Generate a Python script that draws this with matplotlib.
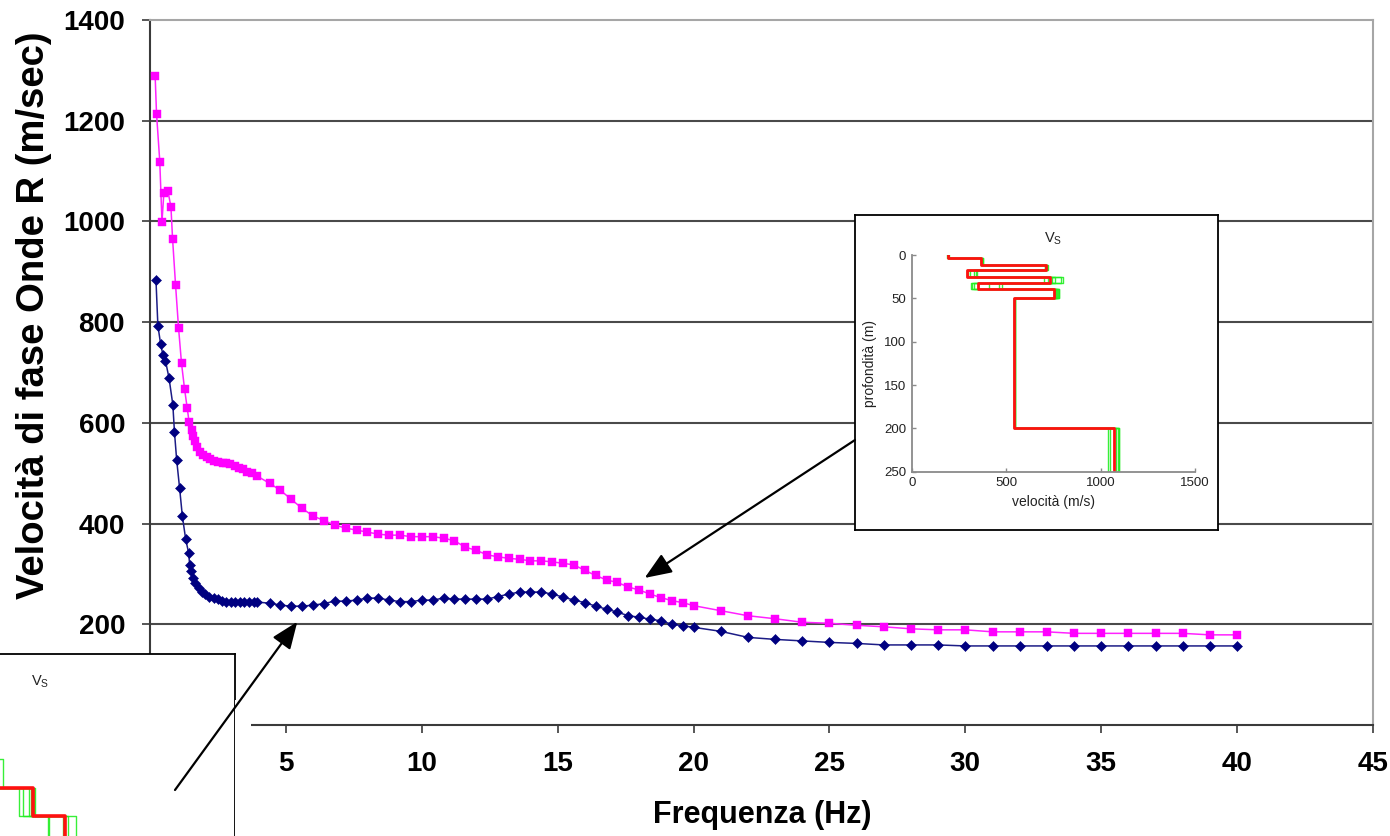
import matplotlib
matplotlib.use("Agg")
import matplotlib.pyplot as plt
from matplotlib.patches import ConnectionPatch, Rectangle

plt.rcParams["font.family"] = ["Liberation Sans", "DejaVu Sans"]

# ---------------- dispersion curves (frequency in Hz, phase velocity in m/s) ----------------
freq_blue_low = [0.22, 0.29, 0.39, 0.48, 0.57, 0.70, 0.84, 0.90, 0.98, 1.09, 1.19, 1.31,
                 1.42, 1.46, 1.52, 1.58, 1.67, 1.79, 1.91, 2.04, 2.18, 2.34, 2.49, 2.65,
                 2.81, 2.98, 3.14, 3.30, 3.47, 3.63, 3.81, 3.94]
freq_pink_low = [0.19, 0.24, 0.36, 0.44, 0.51, 0.66, 0.77, 0.83, 0.94, 1.05, 1.16, 1.27,
                 1.37, 1.44, 1.53, 1.59, 1.65, 1.74, 1.84, 1.96, 2.08, 2.20, 2.35, 2.50,
                 2.67, 2.81, 2.96, 3.12, 3.28, 3.43, 3.58, 3.74, 3.92]
freq_mid = [4.4, 4.8, 5.2, 5.6, 6.0, 6.4, 6.8, 7.2, 7.6, 8.0, 8.4, 8.8, 9.2, 9.6, 10.0,
            10.4, 10.8, 11.2, 11.6, 12.0, 12.4, 12.8, 13.2, 13.6, 14.0, 14.4, 14.8, 15.2,
            15.6, 16.0, 16.4, 16.8, 17.2, 17.6, 18.0, 18.4, 18.8, 19.2, 19.6, 20.0]
freq_high = [21, 22, 23, 24, 25, 26, 27, 28, 29, 30, 31, 32, 33, 34, 35, 36, 37, 38, 39, 40]

vel_blue = [883, 793, 757, 734, 723, 689, 636, 582, 527, 470, 415, 370,
            342, 318, 305, 291, 281, 272, 265, 260, 255, 252, 250, 247,
            245, 245, 244, 244, 244, 244, 244, 244,
            242, 238, 236, 236, 238, 241, 246, 246, 248, 252, 252, 248, 245, 245, 248,
            248, 252, 250, 250, 250, 250, 255, 260, 264, 264, 264, 260, 254,
            248, 243, 236, 230, 224, 217, 214, 210, 207, 200, 197, 194,
            186, 174, 170, 167, 164, 162, 159, 159, 159, 157, 157, 157, 157, 157, 157,
            157, 157, 157, 157, 157]
vel_pink = [1288, 1214, 1119, 999, 1056, 1060, 1029, 966, 874, 789, 718, 668,
            629, 601, 586, 573, 563, 553, 543, 536, 532, 528, 525, 523,
            521, 520, 518, 515, 511, 508, 503, 500, 495,
            480, 466, 448, 430, 415, 406, 397, 391, 387, 383, 379, 377, 377, 374, 374,
            374, 371, 366, 353, 347, 338, 334, 331, 329, 326, 326, 324, 321,
            318, 307, 297, 288, 283, 274, 268, 260, 253, 247, 243, 237,
            227, 217, 211, 204, 202, 198, 195, 191, 189, 189, 185, 185, 185, 182, 182,
            182, 182, 182, 179, 179]

freq_blue = freq_blue_low + freq_mid + freq_high
freq_pink = freq_pink_low + freq_mid + freq_high

x_ticks = [5, 10, 15, 20, 25, 30, 35, 40, 45]
y_ticks = [200, 400, 600, 800, 1000, 1200, 1400]
grid_levels = [200, 400, 600, 800, 1000, 1200]

# ---------------- Vs profiles (layer boundaries in m, velocity per layer in m/s) ----------------
prof_depth = [0, 3, 11.5, 17.3, 25, 32, 39, 50, 200, 250]
prof_red = [191, 367, 710, 292, 733, 350, 755, 542, 1069]
prof_green = [
    [195, 370, 715, 300, 790, 320, 770, 545, 1090],
    [190, 375, 705, 330, 760, 330, 780, 540, 1095],
    [192, 365, 720, 340, 700, 410, 765, 548, 1040],
    [188, 372, 712, 310, 800, 460, 775, 544, 1080],
    [191, 368, 708, 295, 720, 478, 760, 541, 1050],
    [193, 378, 716, 345, 745, 315, 778, 546, 1100],
]

prof2_depth = [0, 40, 70, 104, 136, 250]
prof2_red = [300, 420, 500, 713, 883]
prof2_green = [
    [310, 430, 554, 640, 800],
    [290, 410, 520, 690, 870],
    [305, 425, 510, 720, 900],
    [295, 415, 530, 660, 940],
    [300, 440, 505, 705, 790],
    [285, 405, 515, 725, 880],
]

W, H = 1390, 836
fig = plt.figure(figsize=(W / 100, H / 100), dpi=100)
fig.patch.set_facecolor("white")


def rect(left, top, right, bottom):
    """Axes rectangle from pixel edges measured from the top-left corner."""
    return [left / W, 1 - bottom / H, (right - left) / W, (bottom - top) / H]


# ---------------- main chart ----------------
ax = fig.add_axes(rect(150, 20, 1373, 725))
ax.set_xlim(0, 45)
ax.set_ylim(0, 1400)
ax.hlines(grid_levels, 0, 45, colors="#4a4a4a", lw=1.5, zorder=1)

ax.plot(freq_blue, vel_blue, color="#1c1c86", lw=1.1, marker="D", ms=5.2,
        mfc="#000080", mec="#000080", mew=0.4, zorder=3)
ax.plot(freq_pink, vel_pink, color="#ff22ff", lw=1.1, marker="s", ms=6.2,
        mfc="#ff00ff", mec="#ff00ff", mew=0.3, zorder=3)

ax.set_xticks(x_ticks)
ax.set_yticks(y_ticks)
for s in ("left", "bottom"):
    ax.spines[s].set_color("#3a3a3a")
    ax.spines[s].set_linewidth(1.5)
for s in ("top", "right"):
    ax.spines[s].set_color("#a6a6a6")
    ax.spines[s].set_linewidth(1.5)
ax.tick_params(axis="both", direction="out", length=6, width=1.2, color="#3a3a3a",
               labelsize=20)
ax.tick_params(axis="x", pad=13)
ax.tick_params(axis="y", pad=12)
for lab in ax.get_xticklabels() + ax.get_yticklabels():
    lab.set_fontweight("bold")

fig.text(762 / W, 1 - 815 / H, "Frequenza (Hz)", ha="center", va="center",
         fontsize=22, fontweight="bold")
fig.text(34 / W, 1 - 315 / H, "Velocità di fase Onde R (m/sec)", ha="center",
         va="center", rotation=90, fontsize=27.5, fontweight="bold")


def layer_path(vels, depths):
    """Staircase outline of a layered velocity model."""
    xs, ys = [], []
    for i, v in enumerate(vels):
        xs += [v, v]
        ys += [depths[i], depths[i + 1]]
    return xs, ys


def draw_profile(axp, depths, red, greens, red_lw=2.0):
    for g in greens:
        gx, gy = layer_path(g, depths)
        axp.plot(gx, gy, color="#22ee22", lw=1.0, alpha=0.9)
    rx, ry = layer_path(red, depths)
    axp.plot(rx, ry, color="#ff1010", lw=red_lw)


def style_inset(axp, labels=True):
    axp.set_xlim(0, 1500)
    axp.set_ylim(250, 0)
    axp.set_xticks([0, 500, 1000, 1500])
    axp.set_yticks([0, 50, 100, 150, 200, 250])
    for s in ("top", "right"):
        axp.spines[s].set_visible(False)
    for s in ("left", "bottom"):
        axp.spines[s].set_color("#8a8a8a")
        axp.spines[s].set_linewidth(1.3)
    axp.tick_params(direction="in", length=3, width=1, color="#8a8a8a",
                    labelsize=9.5, labelcolor="#222222", pad=4,
                    labelleft=labels, labelbottom=labels)
    axp.set_facecolor("none")
    axp.annotate(r"$\mathregular{V_S}$", xy=(0.5, 1), xycoords="axes fraction",
                 xytext=(0, 12), textcoords="offset points", ha="center",
                 va="center", fontsize=10.5, color="#222222")


# ---------------- upper-right inset ----------------
box1 = fig.add_axes(rect(855, 215, 1218, 530))
box1.set_xticks([])
box1.set_yticks([])
box1.set_facecolor("white")
for s in box1.spines.values():
    s.set_color("black")
    s.set_linewidth(1.3)

ins1 = fig.add_axes(rect(911.7, 255, 1195, 471.7))
draw_profile(ins1, prof_depth, prof_red, prof_green)
style_inset(ins1)
ins1.set_xlabel("velocità (m/s)", fontsize=10, color="#222222", labelpad=4)
ins1.set_ylabel("profondità (m)", fontsize=10, color="#222222", labelpad=5)

# ---------------- lower-left inset (partly outside the figure) ----------------
fig.add_artist(Rectangle((235 / W, 0), 16 / W, 1 - 700 / H, transform=fig.transFigure,
                         facecolor="white", edgecolor="none", zorder=0.5))
box2 = fig.add_axes(rect(0, 654, 235, 836))
box2.set_xticks([])
box2.set_yticks([])
box2.set_facecolor("white")
for s in ("left", "bottom"):
    box2.spines[s].set_visible(False)
for s in ("top", "right"):
    box2.spines[s].set_color("black")
    box2.spines[s].set_linewidth(1.3)

ins2 = fig.add_axes(rect(-101.7, 698, 181.6, 914.7))
draw_profile(ins2, prof2_depth, prof2_red, prof2_green, red_lw=2.6)
style_inset(ins2, labels=False)

# ---------------- arrows ----------------
arrow_style = "-|>,head_length=0.55,head_width=0.22"
for tail, tip in (((855, H - 440), (18.2, 292)), ((175, H - 790), (5.42, 205))):
    con = ConnectionPatch(xyA=tail, coordsA="figure pixels", xyB=tip, coordsB="data",
                          axesB=ax, arrowstyle=arrow_style, mutation_scale=30,
                          lw=1.6, color="black", shrinkA=0, shrinkB=0)
    fig.add_artist(con)

fig.savefig("out.png", dpi=100, facecolor="white")
